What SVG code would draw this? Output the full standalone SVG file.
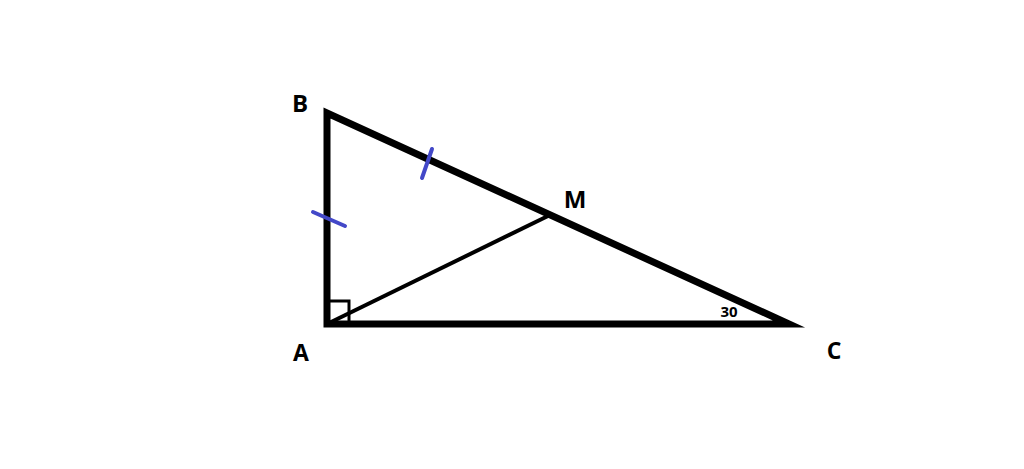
<svg xmlns="http://www.w3.org/2000/svg" width="1024" height="469" viewBox="0 0 1024 469">
<style>
.lbl{font-family:"Open Sans","DejaVu Sans",sans-serif;font-weight:bold;fill:#000;text-anchor:middle}
.tick{stroke:#4348c8;stroke-width:4;stroke-linecap:round;fill:none}
</style>
<rect width="1024" height="469" fill="#fff"/>
<g id="triangle">
<polygon points="327,324 327,113 789,324" fill="none" stroke="#000" stroke-width="7" stroke-linejoin="miter" stroke-miterlimit="10"/>
</g>
<g id="connectors">
<line x1="327" y1="324" x2="550" y2="215" stroke="#000" stroke-width="4"/>
<polyline points="327,301 349,301 349,324" fill="none" stroke="#000" stroke-width="3"/>
<line class="tick" x1="313" y1="212" x2="345" y2="226"/>
<line class="tick" x1="432" y1="149" x2="422" y2="178"/>
</g>
<g id="labels">
<text class="lbl" x="300" y="112" font-size="24">B</text>
<text class="lbl" x="301" y="361" font-size="23">A</text>
<text class="lbl" x="834" y="359" font-size="23">C</text>
<text class="lbl" x="575" y="208" font-size="24">M</text>
<text class="lbl" x="729" y="317" font-size="15">30</text>
</g>
</svg>
